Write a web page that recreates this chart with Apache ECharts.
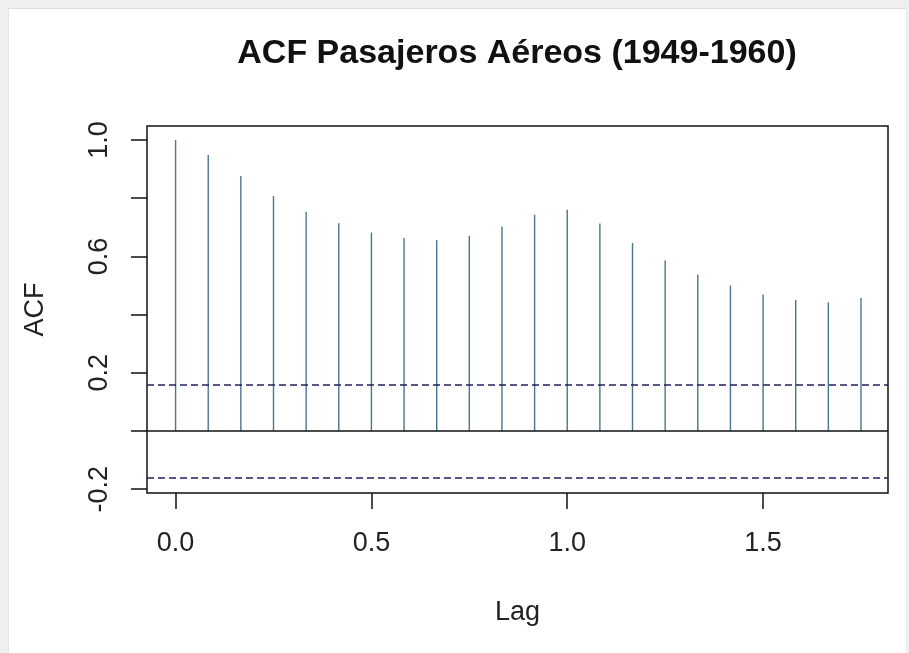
<!DOCTYPE html>
<html>
<head>
<meta charset="utf-8">
<script src="https://cdn.jsdelivr.net/npm/echarts@6/dist/echarts.min.js"></script>
<style>
  html, body { margin: 0; padding: 0; background: #efefef; }
  #paper { position: absolute; left: 8px; top: 8px; width: 897px; height: 645px; background: #ffffff; border-top: 1px solid #dedede; border-left: 1px solid #e4e4e4; }
  #c { position: absolute; left: 0; top: 0; width: 909px; height: 653px; }
</style>
</head>
<body>
<div id="paper"></div>
<div id="c"></div>
<script>
// Data
const lagSteps = [0,1,2,3,4,5,6,7,8,9,10,11,12,13,14,15,16,17,18,19,20,21];
const acfValues = [1.000, 0.948, 0.876, 0.807, 0.753, 0.714, 0.682, 0.663, 0.656, 0.671, 0.703, 0.743, 0.760, 0.713, 0.646, 0.586, 0.538, 0.500, 0.469, 0.450, 0.442, 0.457];
const ciBound = 0.1633;
const xTickValues = [0, 0.5, 1.0, 1.5];
const yTickValues = [-0.2, 0, 0.2, 0.4, 0.6, 0.8, 1.0];
const yLabelValues = [-0.2, 0.2, 0.6, 1.0];
const titleText = 'ACF Pasajeros Aéreos (1949-1960)';

const points = lagSteps.map((k, i) => [k / 12, acfValues[i]]);
const FONT = 'Liberation Sans, Arial, sans-serif';

const chart = echarts.init(document.getElementById('c'), null, { renderer: 'canvas' });
chart.setOption({
  animation: false,
  title: {
    text: titleText,
    left: 512,
    top: 32,
    textAlign: 'center',
    textStyle: { fontFamily: FONT, fontWeight: 'bold', fontSize: 34, color: '#111' }
  },
  grid: {
    left: 147, top: 126, width: 741, height: 367,
    show: true, borderColor: '#111', borderWidth: 1.5, backgroundColor: 'transparent'
  },
  xAxis: {
    type: 'value',
    min: -0.073, max: 1.819,
    name: 'Lag',
    nameLocation: 'middle',
    nameGap: 106,
    nameTextStyle: { fontFamily: FONT, fontSize: 27, color: '#222', verticalAlign: 'top' },
    splitLine: { show: false },
    axisLine: { show: false, onZero: false },
    axisTick: { show: true, length: 16, customValues: xTickValues, lineStyle: { color: '#111', width: 1.5 } },
    axisLabel: {
      customValues: xTickValues, margin: 37,
      fontFamily: FONT, fontSize: 27, color: '#222',
      formatter: v => v.toFixed(1)
    }
  },
  yAxis: {
    type: 'value',
    min: -0.213, max: 1.048,
    name: 'ACF',
    nameLocation: 'middle',
    nameGap: 98,
    nameRotate: 90,
    nameTextStyle: { fontFamily: FONT, fontSize: 27, color: '#222' },
    splitLine: { show: false },
    axisLine: { show: false, onZero: false },
    axisTick: { show: true, length: 16, customValues: yTickValues, lineStyle: { color: '#111', width: 1.5 } },
    axisLabel: {
      customValues: yLabelValues, rotate: 90, margin: 34,
      fontFamily: FONT, fontSize: 27, color: '#222',
      formatter: v => v.toFixed(1)
    }
  },
  series: [
    {
      type: 'custom',
      data: points,
      renderItem: function (params, api) {
        const x = api.value(0), y = api.value(1);
        const p0 = api.coord([x, 0]);
        const p1 = api.coord([x, y]);
        return {
          type: 'line',
          shape: { x1: p0[0], y1: p0[1], x2: p1[0], y2: p1[1] },
          style: { stroke: '#4a7590', lineWidth: 1.4 }
        };
      },
      markLine: {
        silent: true,
        symbol: 'none',
        label: { show: false },
        data: [
          { yAxis: 0, lineStyle: { color: '#111', width: 1.5, type: 'solid' } },
          { yAxis: ciBound, lineStyle: { color: '#1f1f62', width: 1.7, type: [7, 4] } },
          { yAxis: -ciBound, lineStyle: { color: '#1f1f62', width: 1.7, type: [7, 4] } }
        ]
      }
    }
  ]
});
</script>
</body>
</html>
